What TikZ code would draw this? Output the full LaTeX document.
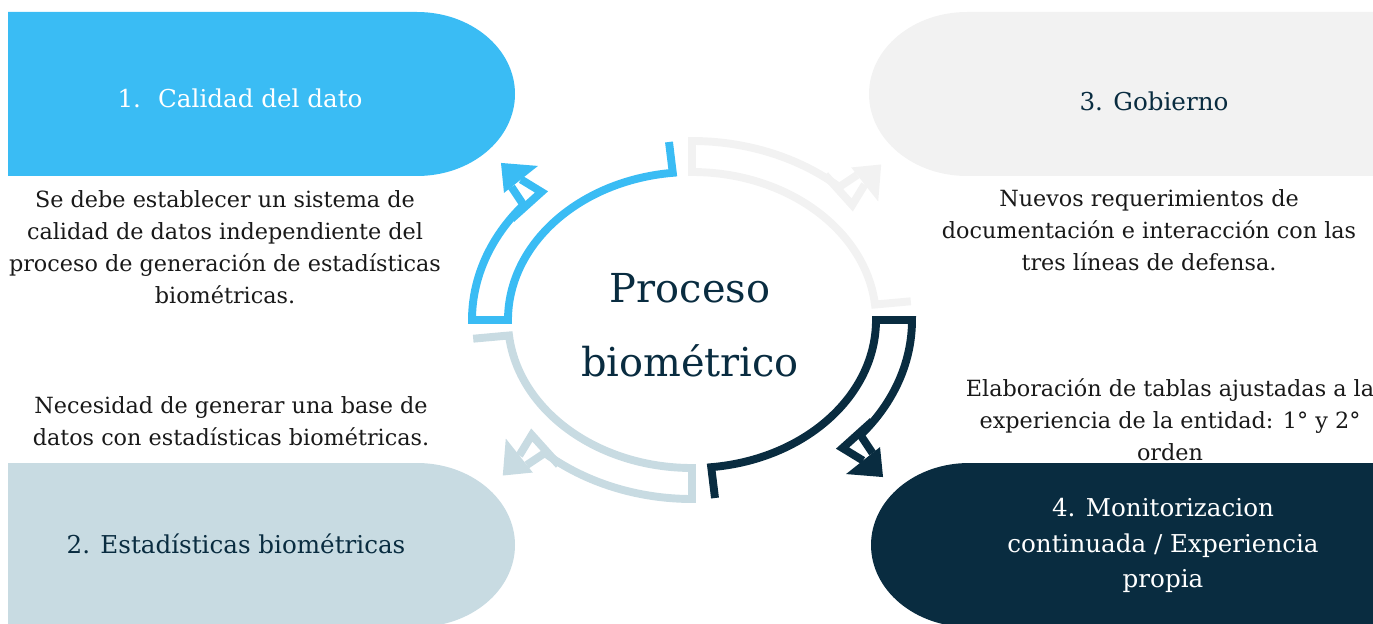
\documentclass[tikz,border=0pt]{standalone}
\usepackage{fontspec}
\setmainfont{DejaVu Serif}
\usetikzlibrary{calc}
\definecolor{cblue}{RGB}{58,188,244}
\definecolor{cgray}{RGB}{242,242,242}
\definecolor{cpale}{RGB}{200,219,226}
\definecolor{cnavy}{RGB}{9,44,64}
\begin{document}
\begin{tikzpicture}[x=0.02cm, y=0.02cm,
    ring/.style={line width=4.5pt, line join=miter},
    body/.style={align=center, inner sep=0pt, text=black!90, font=\fontsize{12.7}{18.2}\selectfont},
    head/.style={align=center, inner sep=0pt, font=\fontsize{14}{20}\selectfont}]
    \clip (0,0) rectangle (1373,623);

    \coordinate (c) at (692,303);

    \coordinate (l01) at ( 690,297.5);
    \coordinate (l02) at ( 240,525);
    \coordinate (l03) at ( 236, 79);
    \coordinate (l04) at (1154,522);
    \coordinate (l05) at (1163, 77.5);
    \coordinate (l06) at ( 225,376);
    \coordinate (l07) at ( 231,202);
    \coordinate (l08) at (1149,393);
    \coordinate (l09) at (1170,203);

    % the four boxes
    \fill[cblue] (8,611) -- (417,611) arc[start angle=90, end angle=-90, x radius=98, y radius=82] -- (8,447) -- cycle;
    \fill[cgray] (1400,611) -- (967,611) arc[start angle=90, end angle=270, x radius=98, y radius=82] -- (1400,447) -- cycle;
    \fill[cpale] (8,160) -- (417,160) arc[start angle=90, end angle=-90, x radius=98, y radius=82] -- (8,-4) -- cycle;
    \fill[cnavy] (1400,160) -- (969,160) arc[start angle=90, end angle=270, x radius=98, y radius=82] -- (1400,-4) -- cycle;

    % arrow heads
    \begin{scope}[shift={($(c)+(140:220 and 179)$)}]
        \coordinate (a1) at (-12,-14);
        \coordinate (a2) at ( 18,13);
        \coordinate (a3) at ( -2.5,25.5);
        \coordinate (a4) at ( 14.5,39);
        \coordinate (a5) at (-22.5,42);
        \coordinate (a6) at (-19.5,12);
        \coordinate (a7) at (-12,18);
    \end{scope}
    \begin{scope}[shift={($(c)+(48:220 and 179)$)}, rotate=-90]
        \coordinate (b1) at (-12,-14);
        \coordinate (b2) at ( 18,13);
        \coordinate (b3) at ( -2.5,25.5);
        \coordinate (b4) at ( 14.5,39);
        \coordinate (b5) at (-22.5,42);
        \coordinate (b6) at (-19.5,12);
        \coordinate (b7) at (-12,18);
    \end{scope}
    \begin{scope}[shift={($(c)+(-40:220 and 179)$)}, rotate=-180]
        \coordinate (d1) at (-12,-14);
        \coordinate (d2) at ( 18,13);
        \coordinate (d3) at ( -2.5,25.5);
        \coordinate (d4) at ( 14.5,39);
        \coordinate (d5) at (-22.5,42);
        \coordinate (d6) at (-19.5,12);
        \coordinate (d7) at (-12,18);
    \end{scope}
    \begin{scope}[shift={($(c)+(-132:220 and 179)$)}, rotate=-270]
        \coordinate (p1) at (-12,-14);
        \coordinate (p2) at ( 18,13);
        \coordinate (p3) at ( -2.5,25.5);
        \coordinate (p4) at ( 14.5,39);
        \coordinate (p5) at (-22.5,42);
        \coordinate (p6) at (-19.5,12);
        \coordinate (p7) at (-12,18);
    \end{scope}

    % cycle
    \fill[cblue] (a4) -- (a5) -- (a6) -- cycle;
    \draw[ring, cblue] (a1) -- (a2) -- (a3);
    \draw[ring, cblue] (a7) -- ($(c)+(140:220 and 179)$)
        arc[start angle=140, end angle=180, x radius=220, y radius=179]
        -- ($(c)+(180:184 and 148)$) arc[start angle=180, end angle=96, x radius=184, y radius=148]
        -- ($(c)+(96:220 and 179)$);

    \fill[cgray] (b4) -- (b5) -- (b6) -- cycle;
    \draw[ring, cgray] (b1) -- (b2) -- (b3);
    \draw[ring, cgray] (b7) -- ($(c)+(48:220 and 179)$)
        arc[start angle=48, end angle=90, x radius=220, y radius=179]
        -- ($(c)+(90:184 and 148)$) arc[start angle=90, end angle=6, x radius=184, y radius=148]
        -- ($(c)+(6:220 and 179)$);

    \fill[cnavy] (d4) -- (d5) -- (d6) -- cycle;
    \draw[ring, cnavy] (d1) -- (d2) -- (d3);
    \draw[ring, cnavy] (d7) -- ($(c)+(-40:220 and 179)$)
        arc[start angle=-40, end angle=0, x radius=220, y radius=179]
        -- ($(c)+(0:184 and 148)$) arc[start angle=0, end angle=-84, x radius=184, y radius=148]
        -- ($(c)+(-84:220 and 179)$);

    \fill[cpale] (p4) -- (p5) -- (p6) -- cycle;
    \draw[ring, cpale] (p1) -- (p2) -- (p3);
    \draw[ring, cpale] (p7) -- ($(c)+(-132:220 and 179)$)
        arc[start angle=-132, end angle=-90, x radius=220, y radius=179]
        -- ($(c)+(-90:184 and 148)$) arc[start angle=-90, end angle=-174, x radius=184, y radius=148]
        -- ($(c)+(-174:220 and 179)$);

    \node[align=center, inner sep=0pt, text=cnavy, font=\fontsize{22.7}{42}\selectfont] (proc) at (l01) {Proceso\\biométrico};

    \node[head, text=white] (h1) at (l02) {1.\hspace{0.7em}Calidad del dato};
    \node[head, text=cnavy] (h2) at (l03) {2. Estadísticas biométricas};
    \node[head, text=cnavy] (h3) at (l04) {3. Gobierno};
    \node[head, text=white] (h4) at (l05) {4. Monitorizacion\\continuada / Experiencia\\propia};

    \node[body] (t1) at (l06) {Se debe establecer un sistema de\\calidad de datos independiente del\\proceso de generación de estadísticas\\biométricas.};
    \node[body] (t2) at (l07) {Necesidad de generar una base de\\datos con estadísticas biométricas.};
    \node[body] (t3) at (l08) {Nuevos requerimientos de\\documentación e interacción con las\\tres líneas de defensa.};
    \node[body] (t4) at (l09) {Elaboración de tablas ajustadas a la\\experiencia de la entidad: 1° y 2°\\orden};

\end{tikzpicture}
\end{document}
